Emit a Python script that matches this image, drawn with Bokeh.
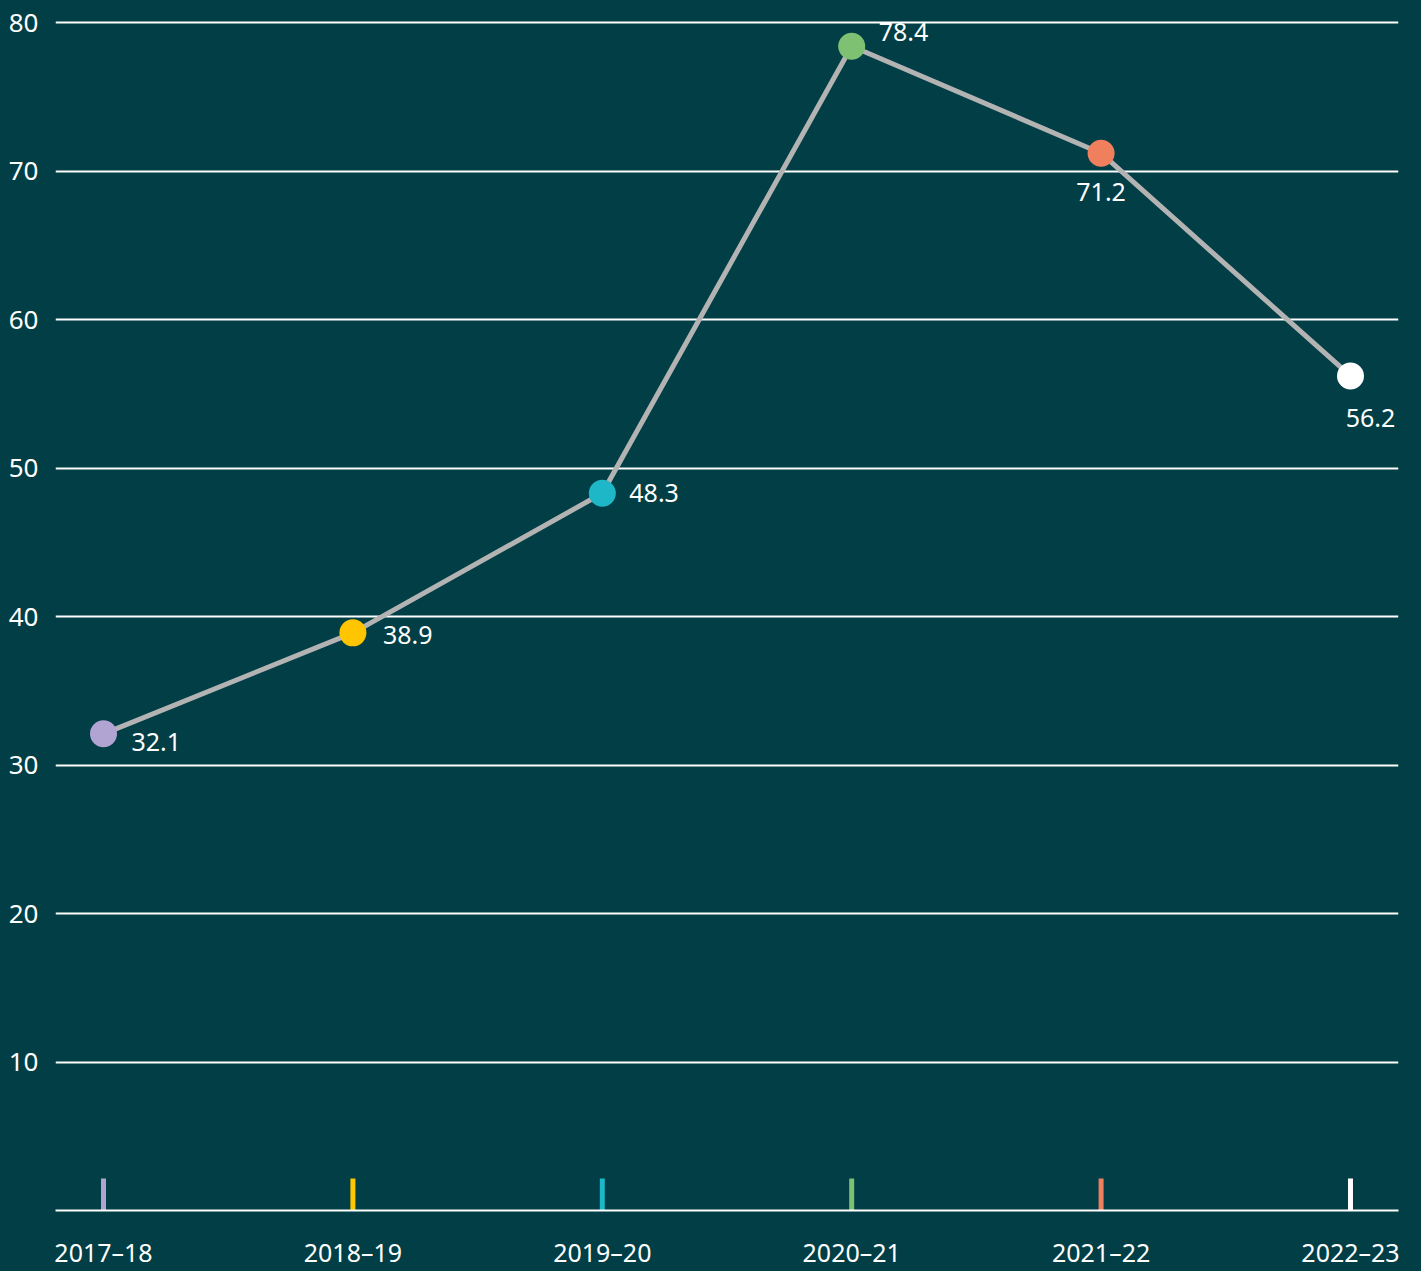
from bokeh.plotting import figure
from bokeh.models import FixedTicker, Range1d, ColumnDataSource
from bokeh.embed import file_html
from bokeh.resources import INLINE
from bokeh.core.properties import value
from jinja2 import Template

# ---- data ----
categories = ["2017–18", "2018–19", "2019–20", "2020–21", "2021–22", "2022–23"]
values = [32.1, 38.9, 48.3, 78.4, 71.2, 56.2]
labels = ["32.1", "38.9", "48.3", "78.4", "71.2", "56.2"]
y_ticks = [10, 20, 30, 40, 50, 60, 70, 80]

# ---- styles ----
BG = "#013e45"
point_colors = ["#b1a3d2", "#ffc500", "#1db7c7", "#7ec173", "#f07f5e", "#ffffff"]
label_dx = [28, 30, 27, 27, 0, 20]
label_dy = [8, 2, 0, -14, 39, 42]
label_align = ["left", "left", "left", "left", "center", "center"]
FONT = "Noto Sans"

xs = list(range(len(categories)))

p = figure(width=1421, height=1271, output_backend="svg", toolbar_location=None,
           x_range=Range1d(-0.1925, len(categories) - 1 + 0.1925),
           y_range=Range1d(0, 80.54),
           background_fill_color=BG, border_fill_color=BG,
           min_border_left=55, min_border_right=23, min_border_top=14, min_border_bottom=61)
p.outline_line_color = None

# grid
p.xgrid.visible = False
p.ygrid.ticker = FixedTicker(ticks=y_ticks)
p.ygrid.grid_line_color = "white"
p.ygrid.grid_line_width = 2

# y axis
p.yaxis.ticker = FixedTicker(ticks=y_ticks)
p.yaxis.axis_line_color = None
p.yaxis.major_tick_line_color = None
p.yaxis.minor_tick_line_color = None
p.yaxis.major_label_text_color = "white"
p.yaxis.major_label_text_font = FONT
p.yaxis.major_label_text_font_size = "26px"
p.yaxis.major_label_standoff = 11

# x axis
p.xaxis.ticker = FixedTicker(ticks=xs)
p.xaxis.major_label_overrides = {i: c for i, c in zip(xs, categories)}
p.xaxis.axis_line_color = "white"
p.xaxis.axis_line_width = 2
p.xaxis.major_tick_line_color = None
p.xaxis.minor_tick_line_color = None
p.xaxis.major_label_text_color = "white"
p.xaxis.major_label_text_font = FONT
p.xaxis.major_label_text_font_size = "25px"
p.xaxis.major_label_standoff = 18

# colored ticks above baseline
p.segment(x0=xs, y0=[0] * len(xs), x1=xs, y1=[2.15] * len(xs),
          line_color=point_colors, line_width=5)

# line + markers
p.line(xs, values, line_color="#b3b3b3", line_width=5)
p.scatter(xs, values, size=27, fill_color=point_colors, line_color=None)

src = ColumnDataSource(dict(x=xs, y=values, t=labels, dx=label_dx, dy=label_dy, a=label_align))
p.text(x="x", y="y", text="t", x_offset="dx", y_offset="dy", text_align="a",
       text_baseline="middle", source=src, text_color="white",
       text_font=value(FONT), text_font_size="25px")

tmpl = Template("""{% extends base %}
{% block preamble %}<style>html,body{margin:0;padding:0;background:#013e45;overflow:hidden;}</style>{% endblock %}""")

open("out.html", "w").write(file_html(p, INLINE, template=tmpl))
